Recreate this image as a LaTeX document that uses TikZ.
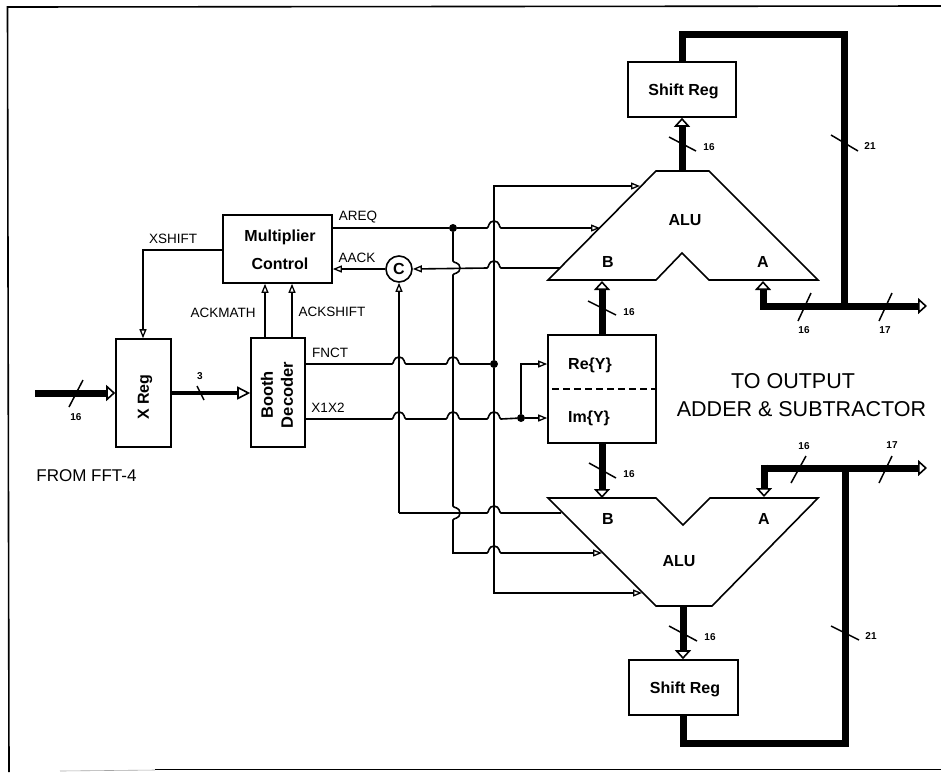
\documentclass[tikz,border=0pt]{standalone}
\usepackage{fontspec}
\setmainfont{Liberation Sans}
\usetikzlibrary{arrows.meta}
\newcommand\hoph[2]{-- ({#1-7},#2) .. controls ({#1-5},#2) and ({#1-6},{#2-7}) .. (#1,{#2-7}) .. controls ({#1+6},{#2-7}) and ({#1+5},#2) .. ({#1+7},#2)}
\newcommand\hopv[2]{-- (#1,{#2-7}) .. controls (#1,{#2-5}) and ({#1+7},{#2-6}) .. ({#1+7},#2) .. controls ({#1+7},{#2+6}) and (#1,{#2+5}) .. (#1,{#2+7})}
\tikzset{
  box/.style={draw,line width=1.6pt,fill=white,inner sep=0pt,align=center,font=\fontsize{16}{19}\selectfont\bfseries},
  lbl/.style={inner sep=0pt,font=\fontsize{13.5}{16}\selectfont},
  num/.style={inner sep=0pt,font=\fontsize{10}{12}\selectfont\bfseries},
  big/.style={inner sep=0pt,font=\fontsize{21.5}{29}\selectfont},
  tag/.style={inner sep=0pt,font=\fontsize{16}{19}\selectfont\bfseries},
  sig/.style={line width=1.6pt},
  sigar/.style={sig,-{Triangle[open,fill=white,length=9pt,width=7pt,line width=1.3pt]}},
  bus/.style={line width=7pt},
  busar/.style={bus,-{Triangle[open,fill=white,length=9pt,width=16pt,line width=1.6pt]}},
  midbus/.style={line width=3.8pt,-{Triangle[open,fill=white,length=13pt,width=13pt,line width=1.6pt]}},
  tick/.style={line width=1.5pt},
  dot/.style={circle,fill=black,inner sep=0pt,minimum size=8pt},
  alu/.style={draw,line width=1.6pt,fill=white,line join=miter}
}
\begin{document}
\begin{tikzpicture}[x=1pt,y=-1pt]
\useasboundingbox (0,0) rectangle (941,772);
\fill[white] (0,0) rectangle (941,772);
% frame
\draw[line width=1.6pt] (9,772) -- (7.5,7) -- (941,6);
\draw[line width=1.6pt] (155,769.5) -- (941,769.5);
\draw[line width=0.6pt,black!35] (60,771) -- (155,770);
% blocks
\node[box,minimum width=109pt,minimum height=68pt] (mc) at (277.5,249) {};
\node[tag] (mct1) at (280,237) {Multiplier};
\node[tag] (mct2) at (280,264) {Control};
\node[box,minimum width=55pt,minimum height=108pt] (xr) at (143.5,393) {};
\node[inner sep=0pt,rotate=90,font=\fontsize{16}{19}\selectfont\bfseries] (xrt) at (145,397) {X Reg};
\node[box,minimum width=54pt,minimum height=109pt] (bd) at (278,392.5) {};
\node[inner sep=0pt,rotate=90,align=center,font=\fontsize{16.5}{20}\selectfont\bfseries] (bdt) at (277,395) {Booth\\Decoder};
\node[box,circle,minimum size=26pt] (c) at (399,269) {C};
\node[box,minimum width=108pt,minimum height=55pt] (srt) at (682,89.5) {};
\node[tag] (srtt) at (683.5,91) {Shift Reg};
\node[box,minimum width=109pt,minimum height=55pt] (srb) at (683.5,687.5) {};
\node[tag] (srbt) at (685,689.5) {Shift Reg};
\node[box,minimum width=108pt,minimum height=108pt] (y) at (602,389) {};
\node[tag] (re) at (590,365) {Re\{Y\}};
\node[tag] (im) at (589,418) {Im\{Y\}};
\draw[line width=1.5pt,dash pattern=on 7pt off 4pt] (y.west |- 0,389) ++(5,0) -- (y.east |- 0,389);
% ALUs
\draw[alu] (656,171) coordinate (ta1) -- (709,171) coordinate (ta2) -- (818,280) coordinate (ta3) -- (709,280) -- (682,253) -- (656,280) -- (548,280) coordinate (ta4) -- cycle;
\draw[alu] (548,498) coordinate (ba1) -- (656,498) -- (683,525) -- (710,498) -- (818,498) coordinate (ba2) -- (712,606) coordinate (ba3) -- (656,606) coordinate (ba4) -- cycle;
\node[tag] (alut) at (685,220) {ALU};
\node[tag] (aluta) at (763,262) {A};
\node[tag] (alutb) at (608,262) {B};
\node[tag] (alub) at (679,561) {ALU};
\node[tag] (aluba) at (764,519) {A};
\node[tag] (alubb) at (608,519) {B};
% ports on ALU outlines
\coordinate (tS1) at (640,186);
\coordinate (tS2) at (600,228);
\coordinate (tS3) at (560,268);
\coordinate (bS1) at (561,513);
\coordinate (bS2) at (602,553);
\coordinate (bS3) at (642,593);
\coordinate (tOut) at (682,171);
\coordinate (tInB) at (602,281);
\coordinate (tInA) at (763,281);
\coordinate (bOut) at (683,606);
\coordinate (bInB) at (602,498);
\coordinate (bInA) at (764,497);
% junctions
\node[dot] (j1) at (453,228) {};
\node[dot] (j2) at (494,364) {};
\node[dot] (j3) at (521,418) {};
\coordinate (fn) at (305,364);
\coordinate (xx) at (305,419);
% thick buses
\coordinate (inS) at (35,393);
\draw[busar] (inS) -- (xr.west |- inS);
\draw[midbus] (xr.east |- inS) -- (bd.west |- inS);
\draw[busar] (tOut) -- (srt.south -| tOut);
\draw[busar] (y.north -| tInB) -- (tInB);
\draw[busar] (y.south -| bInB) -- (bInB);
\draw[busar] (bOut) -- (srb.north -| bOut);
\coordinate (tc1) at (682,34);
\coordinate (tc2) at (844,34);
\coordinate (tj) at (844,306);
\coordinate (tb1) at (763,306);
\coordinate (tb2) at (927,306);
\draw[bus,line join=miter] (srt.north -| tc1) -- (tc1) -- (tc2) -- (tj);
\draw[busar] (tb1) -- (tb2);
\draw[busar] (tb1) ++(0,3.5) -- (tInA);
\coordinate (bc1) at (683,743);
\coordinate (bc2) at (845,743);
\coordinate (bj) at (845,468);
\coordinate (bb1) at (764,468);
\coordinate (bb2) at (927,468);
\draw[bus,line join=miter] (srb.south -| bc1) -- (bc1) -- (bc2) -- (bj);
\draw[busar] (bb1) -- (bb2);
\draw[busar] (bb1) ++(0,-3.5) -- (bInA);
% control signals
\draw[sigar] (mc.west |- 0,250) -| (xr.north -| 143,0);
\draw[sigar] (bd.north -| 265,0) -- (mc.south -| 265,0);
\draw[sigar] (bd.north -| 292,0) -- (mc.south -| 292,0);
\draw[sig] (mc.east |- j1) -- (j1);
\draw[sigar] (j1) \hoph{494}{228} -- (tS2);
\draw[sigar] (c.west) -- (mc.east |- c.west);
\draw[sigar] (tS3) -- (501,268) .. controls (499,268) and (500,261) .. (494,261) .. controls (488,261) and (489,268) .. (487,268) -- (c.east);
\draw[sigar] (j2) |- (tS1);
\draw[sigar] (j2) |- (bS3);
\draw[sig] (fn) \hoph{399}{364} \hoph{453}{364} -- (j2);
\draw[sig] (xx) \hoph{399}{419} \hoph{453}{419} \hoph{494}{419} -- (j3);
\draw[sigar] (j3) -- (y.west |- j3);
\draw[sigar] (j3) |- (y.west |- j2);
\draw[sigar] (j1) \hopv{453}{268} -- (453,506) \hopv{453}{513} -- (453,553) \hoph{494}{553} -- (bS2);
\draw[sigar] (399,513) coordinate (cc) -- (c.south);
\draw[sig] (cc) -- (461,513) \hoph{494}{513} -- (bS1);
% ticks and widths
\coordinate (k1a) at (83,380); \coordinate (k1b) at (69,407);
\draw[tick] (k1a) -- (k1b);
\coordinate (k2a) at (197,386); \coordinate (k2b) at (204,400);
\draw[tick] (k2a) -- (k2b);
\coordinate (k3a) at (669,137); \coordinate (k3b) at (696,151);
\draw[tick] (k3a) -- (k3b);
\coordinate (k4a) at (831,135); \coordinate (k4b) at (858,151);
\draw[tick] (k4a) -- (k4b);
\coordinate (k5a) at (811,293); \coordinate (k5b) at (798,321);
\draw[tick] (k5a) -- (k5b);
\coordinate (k6a) at (892,293); \coordinate (k6b) at (879,321);
\draw[tick] (k6a) -- (k6b);
\coordinate (k7a) at (588,301); \coordinate (k7b) at (616,315);
\draw[tick] (k7a) -- (k7b);
\coordinate (k8a) at (589,463); \coordinate (k8b) at (616,478);
\draw[tick] (k8a) -- (k8b);
\coordinate (k9a) at (806,456); \coordinate (k9b) at (791,483);
\draw[tick] (k9a) -- (k9b);
\coordinate (k10a) at (892,456); \coordinate (k10b) at (879,483);
\draw[tick] (k10a) -- (k10b);
\coordinate (k11a) at (669,626); \coordinate (k11b) at (697,641);
\draw[tick] (k11a) -- (k11b);
\coordinate (k12a) at (831,626); \coordinate (k12b) at (859,640);
\draw[tick] (k12a) -- (k12b);
\node[num] (n1) at (76,417) {16};
\node[num] (n2) at (200,376) {3};
\node[num] (n3) at (709,147) {16};
\node[num] (n4) at (870,146) {21};
\node[num] (n5) at (804,330) {16};
\node[num] (n6) at (885,330) {17};
\node[num] (n7) at (629,312) {16};
\node[num] (n8) at (629,474) {16};
\node[num] (n9) at (804,446) {16};
\node[num] (n10) at (892,445) {17};
\node[num] (n11) at (710,637) {16};
\node[num] (n12) at (871,636) {21};
% signal labels
\node[lbl] (l1) at (173,239) {XSHIFT};
\node[lbl] (l2) at (223,313) {ACKMATH};
\node[lbl] (l3) at (332,312) {ACKSHIFT};
\node[lbl] (l4) at (358,217) {AREQ};
\node[lbl] (l5) at (357,258) {AACK};
\node[lbl] (l6) at (330,353) {FNCT};
\node[lbl] (l7) at (328,408) {X1X2};
\node[inner sep=0pt,font=\fontsize{17}{20}\selectfont] (from) at (86.5,476) {FROM FFT-4};
\node[big] (out1) at (793,381) {TO OUTPUT};
\node[big] (out2) at (801.5,409) {ADDER \& SUBTRACTOR};
\end{tikzpicture}
\end{document}
